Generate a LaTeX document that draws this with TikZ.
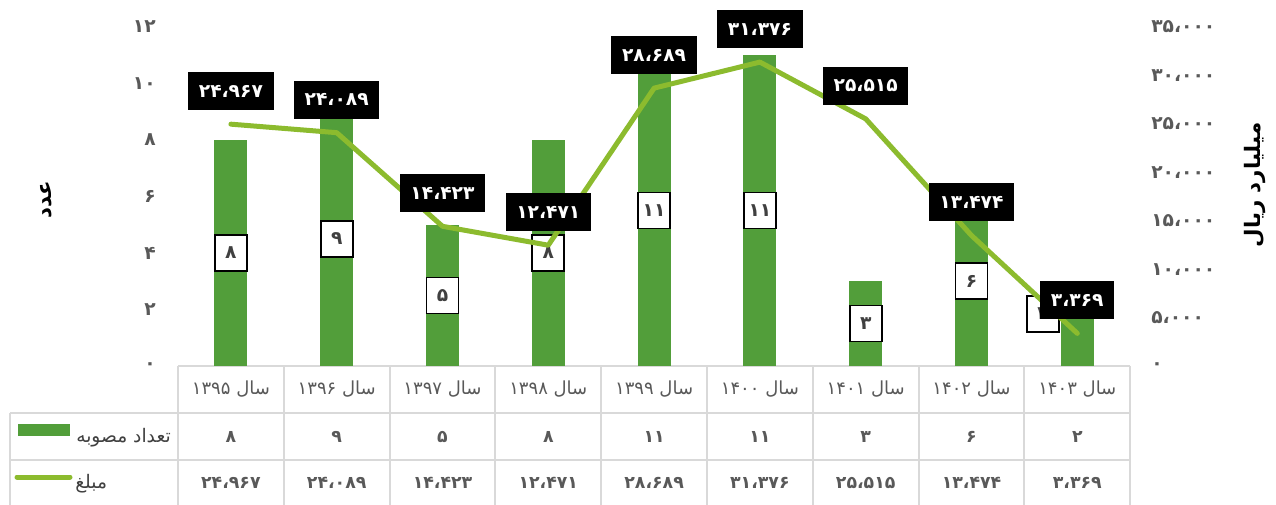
\documentclass[tikz,border=0pt]{standalone}
\usepackage{fontspec}
\TeXXeTstate=1
\newfontfamily\fa[Script=Arabic]{DejaVu Sans}
\definecolor{barg}{HTML}{529E3A}
\definecolor{lineg}{HTML}{8CBB2E}
\definecolor{tgrid}{HTML}{D9D9D9}
\definecolor{tgray}{HTML}{595959}
\definecolor{dgray}{HTML}{404040}
\def\chartdata{%
1/8/24.967/۸/۲۴،۹۶۷/۱۳۹۵,
2/9/24.089/۹/۲۴،۰۸۹/۱۳۹۶,
3/5/14.423/۵/۱۴،۴۲۳/۱۳۹۷,
4/8/12.471/۸/۱۲،۴۷۱/۱۳۹۸,
5/11/28.689/۱۱/۲۸،۶۸۹/۱۳۹۹,
6/11/31.376/۱۱/۳۱،۳۷۶/۱۴۰۰,
7/3/25.515/۳/۲۵،۵۱۵/۱۴۰۱,
8/6/13.474/۶/۱۳،۴۷۴/۱۴۰۲,
9/2/3.369/۲/۳،۳۶۹/۱۴۰۳}
\begin{document}
\begin{tikzpicture}[x=0.75pt,y=-0.75pt,
  barbox/.style={fill=barg},
  vlab/.style={fill=black,text=white,font=\fa\bfseries\fontsize{14}{16}\selectfont,inner xsep=8pt,inner ysep=0pt,minimum height=28.5pt},
  cntlab/.style={fill=white,draw=black,line width=1.3pt,text=dgray,font=\fa\bfseries\fontsize{14}{16}\selectfont,inner xsep=3pt,inner ysep=0pt,minimum width=24pt,minimum height=27pt},
  tline/.style={draw=tgrid,line width=1.5pt},
  tval/.style={text=tgray,font=\fa\bfseries\fontsize{13}{15}\selectfont},
  yrlab/.style={text=tgray,font=\fa\fontsize{13.5}{15}\selectfont},
  ticklab/.style={text=tgray,font=\fa\bfseries\fontsize{14}{16}\selectfont,inner sep=0pt},
  axtitle/.style={text=black,font=\fa\bfseries\fontsize{16}{18}\selectfont,rotate=90},
  legtext/.style={text=dgray,font=\fa\fontsize{14}{16}\selectfont,inner sep=0pt},
  series/.style={draw=lineg,line width=3.75pt,line cap=round,line join=round}]
\useasboundingbox (0,0) rectangle (1276,505);
% table grid
\draw[tline] (178,366) -- (1130,366);
\draw[tline] (10,413) -- (1130,413);
\draw[tline] (10,460) -- (1130,460);
\draw[tline] (10,413) -- (10,506);
\foreach \k in {0,...,9}{\draw[tline] ({178+105.8*\k},366) -- ({178+105.8*\k},506);}
% axis ticks
\foreach \v/\t in {0/۰,2/۲,4/۴,6/۶,8/۸,10/۱۰,12/۱۲}{
  \node[ticklab,anchor=east] (l\v) at (156,{366-28.25*\v}) {\t};}
\foreach \k/\t in {0/۰,1/۵،۰۰۰,2/۱۰،۰۰۰,3/۱۵،۰۰۰,4/۲۰،۰۰۰,5/۲۵،۰۰۰,6/۳۰،۰۰۰,7/۳۵،۰۰۰}{
  \node[ticklab,anchor=west] (r\k) at (1151,{366-48.43*\k}) {\t};}
\node[axtitle] (ttl) at (46,200) {\beginR عدد\endR};
\node[axtitle] (ttr) at (1255,185) {\beginR میلیارد ریال\endR};
% bars, count labels, table text
\foreach \i/\n/\a/\nf/\af/\yr in \chartdata{
  \pgfmathsetmacro\cx{178+105.8*(\i-0.5)}
  \pgfmathsetmacro\by{366-28.25*\n}
  \pgfmathsetmacro\ly{366-\a*339/35}
  \fill[barbox] (\cx-16.5,\by) rectangle (\cx+16.5,366);
  \coordinate (p\i) at (\cx,\ly);
  \ifnum\i=9
    \node[cntlab] (c\i) at (1043,314) {\nf};
  \else
    \node[cntlab] (c\i) at (\cx,{(\by+366)/2}) {\nf};
  \fi
  \node[yrlab] (y\i) at (\cx,389) {\yr\ \beginR سال\endR};
  \node[tval] (n\i) at (\cx,437) {\nf};
  \node[tval] (a\i) at (\cx,483) {\af};
}
% line series
\draw[series] (p1) -- (p2) -- (p3) -- (p4) -- (p5) -- (p6) -- (p7) -- (p8) -- (p9);
% value labels
\foreach \i/\n/\a/\nf/\af/\yr in \chartdata{
  \node[vlab] (v\i) at ([yshift=24.75pt]p\i) {\af};
}
% legend
\fill[barg] (18,424) rectangle (70,436);
\node[legtext,anchor=east] (lg1) at (171,438) {\beginR تعداد مصوبه\endR};
\coordinate (lga) at (17,477);
\coordinate (lgb) at (70,477);
\draw[series] (lga) -- (lgb);
\node[legtext,anchor=west] (lg2) at (75,484) {\beginR مبلغ\endR};
\end{tikzpicture}
\end{document}
